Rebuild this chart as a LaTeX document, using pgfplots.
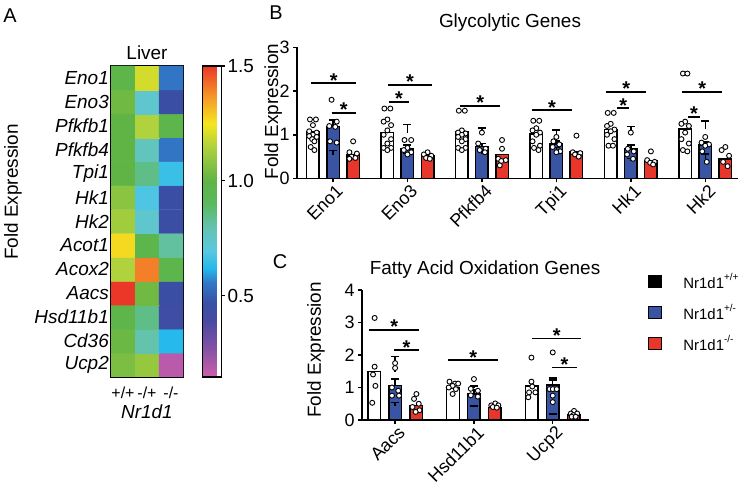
\documentclass[border=0pt]{standalone}
\usepackage{pgfplots}
\pgfplotsset{compat=1.18}
\usepackage{pgfplotstable}
\usepackage{fontspec}
\setmainfont{Liberation Sans}

\definecolor{barblue}{RGB}{58,84,164}
\definecolor{barred}{RGB}{232,54,42}

\newcommand\fsz[1]{\fontsize{#1}{#1}\selectfont}
\newcommand\gsup[1]{\raisebox{0.5em}{\fsz{10}#1}}
\tikzset{star/.style={font=\fsz{20}\bfseries, anchor=base, inner sep=0pt, yshift=-4bp}}

% heatmap: x = genotype, y = 12 - row
\pgfplotstableread{
x y c
0 0 1.05
1 0 1.10
2 0 0.18
0 1 1.02
1 1 0.80
2 1 0.62
0 2 0.98
1 2 0.85
2 2 0.43
0 3 1.50
1 3 1.03
2 3 0.45
0 4 1.15
1 4 1.40
2 4 0.97
0 5 1.27
1 5 0.97
2 5 0.82
0 6 1.12
1 6 0.74
2 6 0.45
0 7 1.08
1 7 0.68
2 7 0.45
0 8 1.00
1 8 0.85
2 8 0.65
0 9 1.00
1 9 0.77
2 9 0.55
0 10 1.00
1 10 1.15
2 10 0.97
0 11 1.03
1 11 0.74
2 11 0.45
0 12 0.98
1 12 1.20
2 12 0.55
}\heat

\pgfplotstableread{
x w we b be r re
0 1.07 0.10 1.19 0.15 0.54 0.10
1 1.05 0.19 0.68 0.09 0.53 0.04
2 1.07 0.08 0.73 0.07 0.55 0.10
3 1.02 0.09 0.79 0.07 0.61 0.10
4 1.12 0.07 0.67 0.10 0.41 0.05
5 1.13 0.19 0.77 0.06 0.45 0.11
}\Bbars

\pgfplotstableread{
x y
-0.31 1.35
-0.23 1.35
-0.27 1.22
-0.32 1.08
-0.22 1.05
-0.27 1.00
-0.32 0.97
-0.22 0.95
-0.28 0.90
-0.25 0.85
-0.30 0.72
-0.25 0.65
-0.02 1.80
0.05 1.30
-0.05 1.20
0.03 1.18
-0.04 0.85
0.05 0.82
0.27 0.85
0.22 0.60
0.32 0.57
0.25 0.50
0.30 0.47
0.22 0.45
0.69 1.60
0.77 1.60
0.73 1.35
0.68 1.30
0.78 1.22
0.73 1.10
0.68 1.00
0.78 0.90
0.73 0.80
0.68 0.70
0.78 0.70
0.73 0.65
0.96 0.88
1.05 0.88
1.00 0.70
0.95 0.65
1.05 0.60
1.00 0.55
1.27 0.60
1.22 0.55
1.32 0.52
1.25 0.47
1.30 0.45
1.69 1.55
1.77 1.55
1.73 1.10
1.68 1.05
1.78 1.03
1.73 1.00
1.68 0.95
1.78 0.90
1.73 0.85
1.68 0.70
1.78 0.70
1.73 0.65
2.00 1.05
1.95 0.80
2.05 0.68
1.97 0.65
2.04 0.60
2.27 0.88
2.27 0.68
2.22 0.45
2.32 0.42
2.26 0.40
2.24 0.30
2.69 1.32
2.77 1.32
2.73 1.15
2.68 1.10
2.78 1.05
2.73 1.00
2.68 0.85
2.78 0.75
2.70 0.70
2.76 0.65
3.00 0.95
2.96 0.85
3.04 0.78
2.95 0.72
3.05 0.62
3.00 0.60
3.27 0.98
3.22 0.60
3.32 0.58
3.25 0.55
3.30 0.50
3.69 1.50
3.77 1.50
3.73 1.25
3.68 1.20
3.78 1.12
3.73 1.08
3.68 1.00
3.78 0.90
3.70 0.75
3.76 0.75
4.00 1.05
3.96 0.68
4.04 0.62
3.95 0.55
4.03 0.45
4.27 0.62
4.22 0.42
4.32 0.38
4.26 0.36
4.30 0.32
4.70 2.40
4.76 2.40
4.73 1.30
4.68 1.25
4.78 1.20
4.73 1.05
4.68 0.90
4.78 0.80
4.70 0.65
4.76 0.62
5.00 0.95
4.95 0.82
5.05 0.78
5.00 0.75
4.96 0.62
5.02 0.38
5.27 0.72
5.22 0.65
5.32 0.52
5.24 0.38
5.30 0.28
}\Bpts

\pgfplotstableread{
x w we b be r re
0 1.49 0.46 1.06 0.20 0.44 0.10
1 0.99 0.05 0.80 0.12 0.39 0.04
2 1.05 0.18 1.07 0.23 0.15 0.03
}\Cbars

\pgfplotstableread{
x y
-0.26 3.14
-0.26 1.64
-0.28 1.40
-0.25 1.05
-0.29 0.53
0.00 1.75
0.00 1.60
-0.04 1.00
0.04 0.90
-0.04 0.75
0.05 0.75
0.27 0.80
0.24 0.65
0.30 0.50
0.22 0.40
0.31 0.30
0.26 0.25
0.69 1.18
0.76 1.12
0.80 1.12
0.73 1.05
0.68 1.00
0.77 0.95
0.73 0.80
1.00 1.26
0.96 0.96
1.05 0.90
0.96 0.76
1.05 0.72
1.27 0.51
1.22 0.45
1.31 0.45
1.24 0.40
1.29 0.38
1.73 1.92
1.73 1.18
1.74 1.03
1.70 0.85
1.78 0.85
1.69 0.70
2.00 2.08
1.96 0.95
2.00 0.95
2.05 0.95
2.00 0.75
2.00 0.55
2.27 0.28
2.23 0.20
2.31 0.20
2.26 0.15
2.24 0.10
2.29 0.10
}\Cpts

\pgfplotsset{
  barax/.style={
    scale only axis, anchor=south west, clip=false,
    axis lines*=left,
    axis line style={line width=1.8bp},
    tick align=outside, major tick length=4bp,
    tick style={line width=1.5bp, black},
    xtick pos=bottom, ytick pos=left,
    ymin=0,
    /pgf/number format/assume math mode=true,
    yticklabel style={font=\fsz{18}},
    xticklabel style={font=\fsz{18}, rotate=45, anchor=north east, inner sep=1bp, xshift=2bp, yshift=-1bp},
    ylabel style={font=\fsz{19}},
    title style={font=\fsz{19}},
  },
  barstyle/.style={ybar, forget plot, draw=black, line width=1.5bp,
    error bars/y dir=plus, error bars/y explicit,
    error bars/error bar style={line width=1.5bp, black},
    error bars/error mark options={rotate=90, mark size=4bp, line width=1.5bp, black}},
  ptstyle/.style={only marks, forget plot, mark=*, mark size=2.5bp,
    mark options={fill=white, draw=black, line width=0.9bp}},
  sig/.style={forget plot, black, line width=1.6bp},
}

\begin{document}
\begin{tikzpicture}

% ---------------- Panel A ----------------
\begin{axis}[
  at={(111bp,107bp)}, anchor=south west, scale only axis,
  width=72bp, height=311bp,
  xmin=-0.5, xmax=2.5, ymin=-0.5, ymax=12.5,
  xtick={0,1,2}, xticklabels={+/+,-/+,-/-},
  ytick={0,...,12},
  yticklabels={Ucp2,Cd36,Hsd11b1,Aacs,Acox2,Acot1,Hk2,Hk1,Tpi1,Pfkfb4,Pfkfb1,Eno3,Eno1},
  yticklabel style={font=\fsz{19}\itshape, inner sep=2bp},
  xticklabel style={font=\fsz{16}, inner sep=1bp, yshift=-9bp},
  major tick length=0pt,
  axis line style={line width=1.5bp},
  colormap={heat}{
    rgb255(15pt)=(205,95,172);
    rgb255(28pt)=(130,80,165);
    rgb255(40pt)=(70,75,160);
    rgb255(47pt)=(55,80,165);
    rgb255(56pt)=(50,120,200);
    rgb255(62pt)=(35,185,235);
    rgb255(70pt)=(90,200,225);
    rgb255(80pt)=(100,195,175);
    rgb255(91pt)=(90,185,90);
    rgb255(100pt)=(95,180,70);
    rgb255(115pt)=(175,210,60);
    rgb255(125pt)=(245,230,30);
    rgb255(137pt)=(245,150,40);
    rgb255(150pt)=(235,55,40)},
  point meta min=0.145, point meta max=1.5,
  colorbar,
  colorbar style={
    at={(parent axis.north east)}, anchor=north west, xshift=11bp,
    scale only axis, width=19bp,
    ytick={0.5,1,1.5}, ytick pos=right, yticklabel pos=right,
    tick align=outside, major tick length=3bp,
    tick style={line width=1.2bp, black},
    axis line style={line width=1.5bp},
    yticklabel style={font=\fsz{19}, inner sep=3bp,
      /pgf/number format/.cd, fixed, fixed zerofill, precision=1, assume math mode=true},
  },
  title=Liver, title style={font=\fsz{19}, at={(0.5,1.025)}, anchor=center},
  xlabel=Nr1d1, xlabel style={font=\fsz{19}\itshape, at={(axis description cs:0.5,-0.113)}, anchor=center},
  ylabel=Fold Expression, ylabel style={font=\fsz{19}, at={(axis description cs:-1.361,0.595)}, anchor=center},
]
\addplot[matrix plot*, mesh/cols=3, point meta=explicit] table[x=x, y=y, meta=c]{\heat};
\end{axis}

% ---------------- Panel B ----------------
\begin{axis}[barax,
  at={(297bp,305.5bp)}, width=441bp, height=131.2bp,
  xmin=-0.484, xmax=5.44, ymax=3,
  xtick={0,...,5}, xticklabels={Eno1,Eno3,Pfkfb4,Tpi1,Hk1,Hk2},
  ytick={0,1,2,3},
  title=Glycolytic Genes, title style={at={(0.483,1.14)}, anchor=center},
  ylabel=Fold Expression, ylabel style={at={(axis description cs:-0.054,0.51)}, anchor=center},
]
\addplot[barstyle, fill=white, bar width=0.168, bar shift=-0.27] table[x=x, y=w, y error=we]{\Bbars};
\addplot[barstyle, fill=barblue, bar width=0.168, bar shift=0] table[x=x, y=b, y error=be]{\Bbars};
\addplot[barstyle, fill=barred, bar width=0.168, bar shift=0.27] table[x=x, y=r, y error=re]{\Bbars};
\addplot[ptstyle] table[x=x, y=y]{\Bpts};
% significance
\addplot[sig] coordinates {(-0.29,2.18) (0.31,2.18)};
\addplot[sig] coordinates {(-0.02,1.50) (0.31,1.50)};
\addplot[sig] coordinates {(0.735,2.14) (1.335,2.14)};
\addplot[sig] coordinates {(0.753,1.75) (1.02,1.75)};
\addplot[sig] coordinates {(1.71,1.66) (2.245,1.66)};
\addplot[sig] coordinates {(2.67,1.56) (3.21,1.56)};
\addplot[sig] coordinates {(3.665,1.98) (4.21,1.98)};
\addplot[sig] coordinates {(3.82,1.61) (3.98,1.61)};
\addplot[sig] coordinates {(4.69,1.98) (5.23,1.98)};
\addplot[sig] coordinates {(4.77,1.41) (4.93,1.41)};
\node[star] at (axis cs:0.01,2.18) {*};
\node[star] at (axis cs:0.145,1.50) {*};
\node[star] at (axis cs:1.035,2.14) {*};
\node[star] at (axis cs:0.886,1.75) {*};
\node[star] at (axis cs:1.978,1.66) {*};
\node[star] at (axis cs:2.94,1.56) {*};
\node[star] at (axis cs:3.94,1.98) {*};
\node[star] at (axis cs:3.90,1.61) {*};
\node[star] at (axis cs:4.96,1.98) {*};
\node[star] at (axis cs:4.85,1.41) {*};
\end{axis}

% ---------------- Panel C ----------------
\begin{axis}[barax,
  at={(362bp,64bp)}, width=227bp, height=130bp,
  xmin=-0.42, xmax=2.46, ymax=4,
  xtick={0,1,2}, xticklabels={Aacs,Hsd11b1,Ucp2},
  ytick={0,1,2,3,4},
  title=Fatty Acid Oxidation Genes, title style={at={(0.542,1.11)}, anchor=center},
  ylabel=Fold Expression, ylabel style={at={(axis description cs:-0.203,0.54)}, anchor=center},
  legend image code/.code={\draw[#1, line width=1.2bp] (0bp,-6bp) rectangle (13bp,6bp);},
  legend style={at={(1.26,1.145)}, anchor=north west, draw=none, fill=none,
    font=\fsz{15}, row sep=11bp, inner sep=0pt,
    /tikz/every odd column/.append style={column sep=19bp}},
  legend cell align=left,
]
\addlegendimage{fill=black, draw=black}
\addlegendentry{Nr1d1\gsup{+/+}}
\addlegendimage{fill=barblue, draw=black}
\addlegendentry{Nr1d1\gsup{+/-}}
\addlegendimage{fill=barred, draw=black}
\addlegendentry{Nr1d1\gsup{-/-}}
\addplot[barstyle, fill=white, bar width=0.16, bar shift=-0.266] table[x=x, y=w, y error=we]{\Cbars};
\addplot[barstyle, fill=barblue, bar width=0.16, bar shift=0] table[x=x, y=b, y error=be]{\Cbars};
\addplot[barstyle, fill=barred, bar width=0.16, bar shift=0.266] table[x=x, y=r, y error=re]{\Cbars};
\addplot[ptstyle] table[x=x, y=y]{\Cpts};
\addplot[sig] coordinates {(-0.325,2.77) (0.304,2.77)};
\addplot[sig] coordinates {(-0.013,2.15) (0.304,2.15)};
\addplot[sig] coordinates {(0.675,1.84) (1.308,1.84)};
\addplot[sig] coordinates {(1.738,2.51) (2.363,2.51)};
\addplot[sig] coordinates {(1.99,1.61) (2.308,1.61)};
\node[star] at (axis cs:-0.01,2.77) {*};
\node[star] at (axis cs:0.145,2.15) {*};
\node[star] at (axis cs:0.99,1.84) {*};
\node[star] at (axis cs:2.05,2.51) {*};
\node[star] at (axis cs:2.15,1.61) {*};
\end{axis}

% panel letters
\node[font=\fsz{20}] at (10bp,468bp) {A};
\node[font=\fsz{20}] at (276bp,471bp) {B};
\node[font=\fsz{20}] at (280bp,222bp) {C};

\pgfresetboundingbox
\path[use as bounding box] (0,0) rectangle (740bp,484bp);
\end{tikzpicture}
\end{document}
